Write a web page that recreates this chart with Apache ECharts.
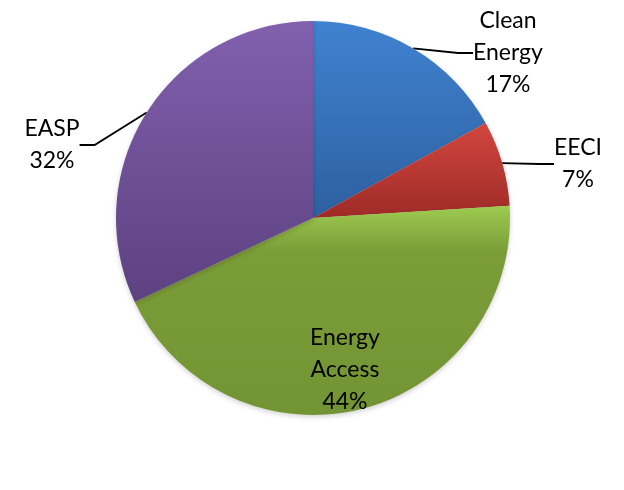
<!DOCTYPE html>
<html>
<head>
<meta charset="utf-8">
<script src="https://cdn.jsdelivr.net/npm/echarts@6/dist/echarts.min.js"></script>
<style>html,body{margin:0;padding:0;background:#fff}#c{width:624px;height:490px}</style>
</head>
<body>
<div id="c"></div>
<script>
const categories = ['Clean\nEnergy', 'EECI', 'Energy\nAccess', 'EASP'];
const values = [17, 7, 44, 32];
const gradientStops = [
  [[0, '#4082d0'], [1, '#2d60a0']],
  [[0, '#d3463f'], [1, '#9e2b27']],
  [[0, '#9ecb50'], [0.22, '#7b9d38'], [1, '#739433']],
  [[0, '#8160ae'], [1, '#5d4180']]
];
const labelPos = [[508, 53], [578, 164], [345, 370], [52, 145]];

const chart = echarts.init(document.getElementById('c'));
chart.setOption({
  animation: false,
  series: [{
    type: 'pie',
    center: [313, 218],
    radius: 197,
    startAngle: 90,
    clockwise: true,
    label: {
      show: true,
      position: 'outside',
      formatter: p => p.name + '\n' + p.value + '%',
      fontFamily: 'Lato, "Open Sans", sans-serif',
      fontSize: 23,
      lineHeight: 32,
      color: '#000',
      align: 'center'
    },
    labelLine: { show: true, length: 25, length2: 15, lineStyle: { color: '#000', width: 1.8 } },
    labelLayout: function (p) {
      const pos = labelPos[p.dataIndex];
      return { x: pos[0], y: pos[1], align: 'center', verticalAlign: 'middle' };
    },
    data: categories.map((c, i) => ({
      name: c,
      value: values[i],
      itemStyle: {
        color: new echarts.graphic.LinearGradient(0, 0, 0, 1,
          gradientStops[i].map(s => ({ offset: s[0], color: s[1] }))),
        shadowBlur: 5,
        shadowOffsetY: 2,
        shadowColor: 'rgba(0,0,0,0.18)'
      },
      label: i === 2 ? { position: 'inside' } : undefined,
      labelLine: i === 2 ? { show: false } : undefined
    }))
  }]
});
</script>
</body>
</html>
